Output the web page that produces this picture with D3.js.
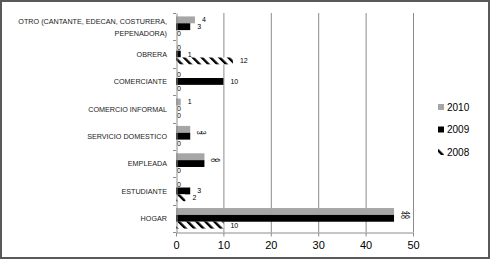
<!DOCTYPE html>
<html>
<head>
<meta charset="utf-8">
<script src="https://cdn.jsdelivr.net/npm/d3@7"></script>
<style>
    body { margin: 0; background: #fff; }
    svg { display: block; font-family: "Liberation Sans", Arial, sans-serif; }
</style>
</head>
<body>
<div id="main"></div>
<script>
const ctx = {
    w: 491,
    h: 260,
    left: 176,
    right: 413,
    top: 13,
    bottom: 232,
};

// data, top category first
const categories = [
    "OTRO (CANTANTE, EDECAN, COSTURERA,|PEPENADORA)",
    "OBRERA",
    "COMERCIANTE",
    "COMERCIO INFORMAL",
    "SERVICIO DOMESTICO",
    "EMPLEADA",
    "ESTUDIANTE",
    "HOGAR"
];
const years = ["2010", "2009", "2008"];
const values2010 = [4, 0, 0, 1, 3, 6, 0, 46];
const values2009 = [3, 1, 10, 0, 3, 6, 3, 46];
const values2008 = [0, 12, 0, 0, 0, 0, 2, 10];
const xTicks = [0, 10, 20, 30, 40, 50];

function createChart(svg) {
    let series = [values2010, values2009, values2008];

    let defs = svg.append("defs");
    let pat = defs.append("pattern")
        .attr("id", "hatch")
        .attr("patternUnits", "userSpaceOnUse")
        .attr("width", 6.3)
        .attr("height", 6.3)
        .attr("patternTransform", "rotate(-45)");
    pat.append("rect").attr("width", 6.3).attr("height", 6.3).attr("fill", "#fff");
    pat.append("rect").attr("x", 0).attr("width", 2.4).attr("height", 6.3).attr("fill", "#000");

    let fills = ["#a6a6a6", "#000", "url(#hatch)"];

    // frame
    svg.append("rect")
        .attr("x", 1).attr("y", 1)
        .attr("width", ctx.w - 3).attr("height", ctx.h - 3)
        .attr("fill", "#fff")
        .attr("stroke", "#595959")
        .attr("stroke-width", 2);

    let x = d3.scaleLinear().domain([0, 50]).range([ctx.left, ctx.right]);
    let y = d3.scaleBand().domain(categories).range([ctx.top, ctx.bottom]).paddingInner(0).paddingOuter(0);
    let inner = d3.scaleBand().domain(years).range([0, y.bandwidth()]).paddingInner(0).paddingOuter(0.5);

    // gridlines
    svg.append("g")
        .selectAll("line")
        .data(xTicks.slice(1))
        .enter().append("line")
        .attr("x1", d => x(d) + 0.5).attr("x2", d => x(d) + 0.5)
        .attr("y1", ctx.top).attr("y2", ctx.bottom)
        .attr("stroke", "#8c8c8c")
        .attr("stroke-width", 1);

    // bars
    years.forEach((yr, si) => {
        svg.append("g")
            .selectAll("rect")
            .data(series[si])
            .enter().append("rect")
            .attr("x", x(0))
            .attr("y", (d, i) => y(categories[i]) + inner(yr))
            .attr("width", d => x(d) - x(0))
            .attr("height", inner.bandwidth())
            .attr("fill", fills[si]);
    });

    // value labels (Excel stacks equal 2010/2009 labels sideways)
    let sameAt = (i, si) => values2010[i] === values2009[i] && values2010[i] > 0 && si < 2;
    years.forEach((yr, si) => {
        svg.append("g")
            .selectAll("text")
            .data(series[si])
            .enter().append("text")
            .attr("font-size", 7)
            .attr("fill", "#000")
            .attr("transform", (d, i) => {
                let cy = y(categories[i]) + inner(yr) + inner.bandwidth() / 2;
                if (sameAt(i, si)) {
                    let cx = x(d) + 9 + (si === 0 ? -2 : 2);
                    return "translate(" + cx + "," + (y(categories[i]) + inner("2009")) + ") rotate(90)";
                }
                let dx = d > 0 ? x(d) + 7 : x(d) + 1;
                return "translate(" + dx + "," + (cy + 2.5) + ")";
            })
            .attr("text-anchor", (d, i) => sameAt(i, si) ? "middle" : "start")
            .text(d => d);
    });

    // y axis
    let yAxis = svg.append("g")
        .attr("transform", "translate(" + (ctx.left + 0.5) + ",0)")
        .call(d3.axisLeft(y).tickSize(0).tickFormat(""));
    yAxis.select(".domain").attr("stroke", "#8c8c8c");
    svg.append("g")
        .selectAll("line")
        .data(categories.concat(["end"]))
        .enter().append("line")
        .attr("x1", ctx.left - 3).attr("x2", ctx.left)
        .attr("y1", (d, i) => Math.round(ctx.top + i * y.step()) + 0.5)
        .attr("y2", (d, i) => Math.round(ctx.top + i * y.step()) + 0.5)
        .attr("stroke", "#8c8c8c");

    // category labels, squeezed a little to match the narrow original font
    let catLabels = svg.append("g")
        .selectAll("text")
        .data(categories)
        .enter().append("text")
        .attr("transform", d => "translate(" + (ctx.left - 9) + "," + (y(d) + y.bandwidth() / 2) + ") scale(0.9,1)")
        .attr("text-anchor", "end")
        .attr("font-size", 8)
        .attr("fill", "#1a1a1a");
    catLabels.each(function(d) {
        let lines = d.split("|");
        let t = d3.select(this);
        lines.forEach((ln, k) => {
            t.append("tspan")
                .attr("x", 0)
                .attr("dy", k === 0 ? (lines.length > 1 ? "-0.3em" : "0.35em") : "1.45em")
                .text(ln);
        });
    });

    // x axis
    let xAxis = svg.append("g")
        .attr("transform", "translate(0," + (ctx.bottom + 0.5) + ")")
        .call(d3.axisBottom(x).tickValues(xTicks).tickSize(4).tickSizeOuter(0));
    xAxis.select(".domain").attr("stroke", "#8c8c8c");
    xAxis.selectAll(".tick line").attr("stroke", "#8c8c8c");
    xAxis.selectAll(".tick text")
        .attr("y", 9)
        .attr("font-size", 11)
        .attr("font-family", "Liberation Sans, Arial, sans-serif")
        .attr("fill", "#000");

    // legend
    let legend = svg.append("g")
        .selectAll("g")
        .data(years)
        .enter().append("g")
        .attr("transform", (d, i) => "translate(438," + (107 + i * 22.5) + ")");
    legend.append("rect")
        .attr("y", -3)
        .attr("width", 6).attr("height", 6)
        .attr("fill", (d, i) => fills[i]);
    legend.append("text")
        .attr("x", 9)
        .attr("dy", "0.35em")
        .attr("font-size", 10)
        .attr("fill", "#000")
        .text(d => d);
}

let svgEl = d3.select("#main").append("svg")
    .attr("width", ctx.w)
    .attr("height", ctx.h);
createChart(svgEl);
</script>
</body>
</html>
